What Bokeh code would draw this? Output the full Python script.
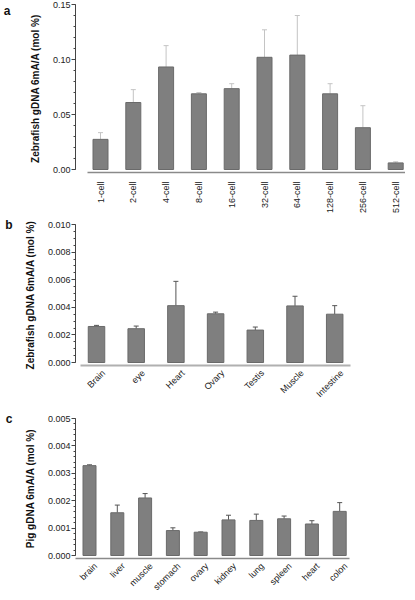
from math import pi
from bokeh.plotting import figure
from bokeh.models import (Range1d, FixedTicker, NumeralTickFormatter, Whisker,
                          TeeHead, ColumnDataSource, LinearAxis)
from bokeh.layouts import column
from bokeh.embed import file_html
from bokeh.resources import INLINE

# ---------------- data ----------------
stages = ["1-cell", "2-cell", "4-cell", "8-cell", "16-cell", "32-cell",
          "64-cell", "128-cell", "256-cell", "512-cell"]
stage_mean = [0.0274, 0.0609, 0.0932, 0.0688, 0.0735, 0.102, 0.104, 0.0688, 0.038, 0.006]
stage_upper = [0.0335, 0.0726, 0.1126, 0.070, 0.078, 0.127, 0.140, 0.078, 0.058, 0.007]

zf_tissues = ["Brain", "eye", "Heart", "Ovary", "Testis", "Muscle", "Intestine"]
zf_mean = [0.00261, 0.00245, 0.00412, 0.00353, 0.00235, 0.0041, 0.0035]
zf_upper = [0.00269, 0.00264, 0.00588, 0.00365, 0.00257, 0.0048, 0.00412]

pig_tissues = ["brain", "liver", "muscle", "stomach", "ovary", "kidney", "lung",
               "spleen", "heart", "colon"]
pig_mean = [0.00328, 0.00156, 0.0021, 0.00091, 0.00085, 0.0013, 0.00128, 0.00134, 0.00115, 0.00161]
pig_upper = [0.00331, 0.00184, 0.00226, 0.00101, 0.00086, 0.00147, 0.00151, 0.00144, 0.00127, 0.00193]

a_ticks = [0.0, 0.05, 0.10, 0.15]
a_minor = [i / 100 for i in range(16)]
b_ticks = [0.0, 0.002, 0.004, 0.006, 0.008, 0.010]
b_minor = [i * 0.0005 for i in range(21)]
c_ticks = [0.0, 0.001, 0.002, 0.003, 0.004, 0.005]
c_minor = [i * 0.0002 for i in range(26)]

FONT = "Liberation Sans"
LEFT = 80  # page x of the y axis


def make_panel(letter, letter_standoff, cats, means, uppers, ylabel, yend, ymajor, yminor, fmt,
               frame_w, frame_h, d_px, b_top, b_bottom, px_first, px_step, bar_px,
               ax_l, ax_r, orient, label_shift, label_standoff,
               err_color, xaxis_color, xaxis_w):
    xs = list(range(len(cats)))
    start = -(px_first - LEFT) / px_step
    end = start + frame_w / px_step
    yscale = (frame_h - d_px) / yend
    ystart = -d_px / yscale

    p = figure(output_backend="svg", toolbar_location=None,
               frame_width=frame_w, frame_height=frame_h,
               x_range=Range1d(start, end), y_range=Range1d(ystart, yend),
               min_border_left=LEFT - 8, min_border_right=0,
               min_border_top=b_top, min_border_bottom=b_bottom)
    p.outline_line_color = None
    p.xgrid.visible = False
    p.ygrid.visible = False

    src = ColumnDataSource(dict(x=xs, mean=means, upper=uppers))
    p.add_layout(Whisker(base="x", lower="mean", upper="upper", source=src,
                         dimension="height", line_color=err_color, line_width=1,
                         lower_head=None,
                         upper_head=TeeHead(size=5, line_color=err_color, line_width=1)))
    p.vbar(x="x", top="mean", bottom=0, width=bar_px / px_step, source=src,
           fill_color="#7f7f7f", line_color="#6a6a6a", line_width=1)

    # category labels (shifted slightly so rotated labels end beside their bar)
    lab_pos = [x + label_shift for x in xs]
    xa = p.xaxis[0]
    xa.ticker = FixedTicker(ticks=lab_pos)
    xa.major_label_overrides = {lp: c for lp, c in zip(lab_pos, cats)}
    xa.major_tick_line_color = None
    xa.minor_tick_line_color = None
    xa.axis_line_color = xaxis_color
    xa.axis_line_width = xaxis_w
    xa.bounds = (start + (ax_l - LEFT) / px_step, start + (ax_r - LEFT) / px_step)
    xa.major_label_orientation = orient
    xa.major_label_standoff = label_standoff
    xa.major_label_text_font = FONT
    xa.major_label_text_font_size = "9px"
    xa.major_label_text_color = "#222222"

    ya = p.yaxis[0]
    ya.ticker = FixedTicker(ticks=ymajor, minor_ticks=yminor)
    ya.formatter = NumeralTickFormatter(format=fmt)
    ya.bounds = (0, yend)
    ya.axis_line_color = "#444444"
    ya.major_tick_line_color = "#444444"
    ya.minor_tick_line_color = "#444444"
    ya.major_tick_in = 0
    ya.major_tick_out = 4
    ya.minor_tick_in = 0
    ya.minor_tick_out = 2
    ya.major_label_standoff = 1
    ya.major_label_text_font = FONT
    ya.major_label_text_font_size = "9px"
    ya.major_label_text_color = "#222222"
    ya.axis_label = ylabel
    ya.axis_label_text_font = FONT
    ya.axis_label_text_font_style = "bold"
    ya.axis_label_text_font_size = "10px"
    ya.axis_label_text_color = "#111111"
    ya.axis_label_standoff = 9

    # panel letter, as an outer left axis with a single labelled tick at the top
    la = LinearAxis(ticker=FixedTicker(ticks=[yend]), major_label_overrides={yend: letter},
                    axis_line_color=None, major_tick_line_color=None,
                    minor_tick_line_color=None, major_label_standoff=letter_standoff,
                    major_label_text_font=FONT, major_label_text_font_style="bold",
                    major_label_text_font_size="12px", major_label_text_color="#111111")
    p.add_layout(la, "left")
    return p


pa = make_panel("a", 10, stages, stage_mean, stage_upper, "Zebrafish gDNA 6mA/A (mol %)",
                0.15, a_ticks, a_minor, "0.00",
                330, 168, 3, 4, 36, 105, 32.8, 15, 92, 410, pi / 2, 0.0, 3,
                "#c4c4c4", "#8a8a8a", 1.5)
pb = make_panel("b", 3, zf_tissues, zf_mean, zf_upper, "Zebrafish gDNA 6mA/A (mol %)",
                0.010, b_ticks, b_minor, "0.000",
                290, 141, 3, 8, 40, 101, 39.7, 16.5, 85, 355, pi / 4, 0.18, 0,
                "#555555", "#b0b0b0", 2)
pc = make_panel("c", 3, pig_tissues, pig_mean, pig_upper, "Pig gDNA 6mA/A (mol %)",
                0.005, c_ticks, c_minor, "0.000",
                290, 140, 3, 13, 32, 94, 27.8, 13, 79, 354, pi / 4, 0.22, 0,
                "#555555", "#8a8a8a", 1.5)

layout = column(pa, pb, pc)
open("out.html", "w").write(file_html(layout, INLINE))
